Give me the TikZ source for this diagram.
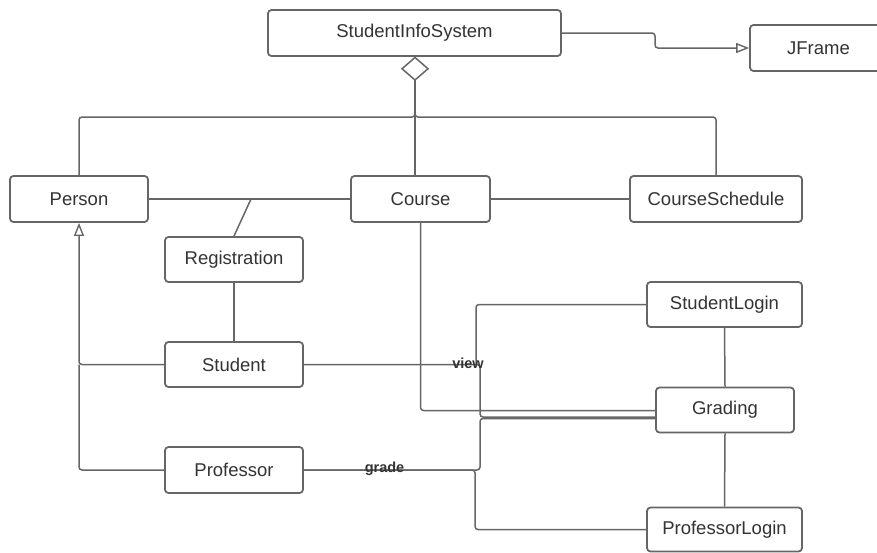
\documentclass[tikz,border=0pt]{standalone}
\usepackage{fontspec}
\setmainfont{Liberation Sans}
\usetikzlibrary{arrows.meta}
\definecolor{linec}{HTML}{666666}
\definecolor{textc}{HTML}{333333}
\tikzset{
  umlbox/.style={draw=linec, line width=1.8pt, rounded corners=3.5pt, fill=white,
    text=textc, inner sep=0pt, font=\fontsize{18.5}{21}\selectfont},
  conn/.style={draw=linec, line width=1.5pt, rounded corners=3pt},
  gen/.style={-{Triangle[open, length=13pt, width=10pt, line width=1.4pt]}},
  lbl/.style={text=textc, font=\bfseries\fontsize{14.5}{16}\selectfont, inner sep=0pt}
}
\begin{document}
\begin{tikzpicture}[x=1pt,y=-1pt]
\useasboundingbox (0,0) rectangle (877,552);
\clip (0,0) rectangle (877,552);
% boxes
\node[umlbox, minimum width=293pt, minimum height=46pt] (sis) at (414.5,33) {StudentInfoSystem};
\node[umlbox, minimum width=137pt, minimum height=46pt] (jf) at (818.5,48) {JFrame};
\node[umlbox, minimum width=138pt, minimum height=46pt] (person) at (79,199) {Person};
\node[umlbox, minimum width=139pt, minimum height=46pt] (course) at (420.5,199) {Course};
\node[umlbox, minimum width=172pt, minimum height=46pt] (cs) at (716,199) {CourseSchedule};
\node[umlbox, minimum width=138pt, minimum height=45pt] (reg) at (234,259.5) {Registration};
\node[umlbox, minimum width=138pt, minimum height=45pt] (student) at (234,364.5) {Student};
\node[umlbox, minimum width=138pt, minimum height=46pt] (prof) at (234,470) {Professor};
\node[umlbox, minimum width=155pt, minimum height=45pt] (sl) at (724.5,304.5) {StudentLogin};
\node[umlbox, minimum width=138pt, minimum height=45pt] (grading) at (725,410) {Grading};
\node[umlbox, minimum width=155pt, minimum height=44pt] (pl) at (724.5,529.5) {ProfessorLogin};
% aggregation diamond
\coordinate (dtop) at (415,57.5);
\coordinate (dbot) at (415,80);
\draw[conn] (dbot) -- (415,117) -| (person.north);
\draw[conn] (dbot) -- (415,117) -| (cs.north);
\draw[conn] (dbot) -- (415,176);
\draw[line width=1.5pt, draw=linec, fill=white, line join=miter]
  (dtop) -- (428,68.75) -- (dbot) -- (402,68.75) -- cycle;
% generalization to JFrame
\draw[conn, gen] (sis.east) -- (655,33) -- (655,48) -- (jf.west);
% associations
\draw[conn] (person.east) -- (course.west);
\coordinate (regj) at (251,199);
\draw[conn] (reg.north) -- (regj);
\draw[conn] (course.east) -- (cs.west);
\draw[conn] (reg.south) -- (student.north);
% generalization to Person
\draw[conn, gen] (student.west) -| (person.south);
\draw[conn] (prof.west) -| (79,364.5);
% view
\draw[conn] (student.east) -- (480,364.5) |- (656,417);
\draw[conn] (sl.west) -| (476,364.5);
\node[lbl] (view) at (468,363) {view};
% course to grading
\draw[conn] (course.south) |- (656,410.5);
% grade
\draw[conn] (prof.east) -- (480,470) |- (656,418.5);
\draw[conn] (prof.east) -- (475,470) |- (pl.west);
\node[lbl] (grade) at (384.5,469) {grade};
% login links
\draw[conn] (sl.south) -- (grading.north);
\draw[conn] (grading.south) -- (pl.north);
\end{tikzpicture}
\end{document}
